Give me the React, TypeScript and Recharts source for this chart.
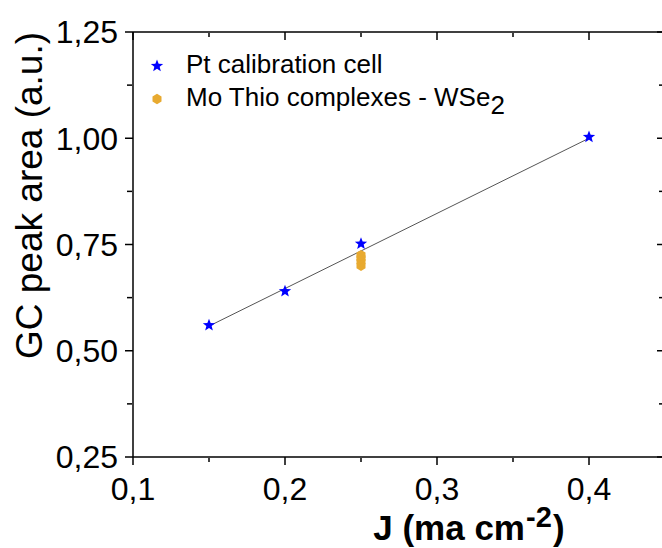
import { ScatterChart, Scatter, XAxis, YAxis, Legend, Label } from 'recharts';

// Pt calibration cell
const ptJ = [0.15, 0.2, 0.25, 0.4];
const ptArea = [0.56, 0.64, 0.752, 1.003];
// Mo thio complexes on WSe2
const moJ = [0.25, 0.25, 0.25, 0.25];
const moArea = [0.7, 0.71, 0.718, 0.725];
// linear fit of the calibration points
const fitJ = [0.15, 0.4];
const fitArea = [0.558, 1.0];

const xMajorTicks = [0.1, 0.2, 0.3, 0.4];
const xMinorTicks = [0.15, 0.25, 0.35, 0.45];
const yMajorTicks = [0.25, 0.5, 0.75, 1.0, 1.25];
const yMinorTicks = [0.375, 0.625, 0.875, 1.125];

const ptName = 'Pt calibration cell';
const moName = 'Mo Thio complexes - WSe';

const X_DOMAIN = [0.1, 0.45];
const Y_DOMAIN = [0.25, 1.25];
const FONT = 'Arial, "Liberation Sans", sans-serif';
const BLUE = '#0000FF';
const ORANGE = '#E8AA30';

const toPoints = (xs: number[], ys: number[]) => xs.map((x, i) => ({ x, y: ys[i] }));
const ptData = toPoints(ptJ, ptArea);
const moData = toPoints(moJ, moArea);
const fitData = toPoints(fitJ, fitArea);

function starPath(cx: number, cy: number, R: number, r: number) {
  let d = '';
  for (let i = 0; i < 10; i++) {
    const rad = i % 2 === 0 ? R : r;
    const a = -Math.PI / 2 + (i * Math.PI) / 5;
    d += (i === 0 ? 'M' : 'L') + (cx + rad * Math.cos(a)).toFixed(2) + ',' + (cy + rad * Math.sin(a)).toFixed(2);
  }
  return d + 'Z';
}

function hexPath(cx: number, cy: number, R: number) {
  let d = '';
  for (let i = 0; i < 6; i++) {
    const a = -Math.PI / 2 + (i * Math.PI) / 3;
    d += (i === 0 ? 'M' : 'L') + (cx + R * Math.cos(a)).toFixed(2) + ',' + (cy + R * Math.sin(a)).toFixed(2);
  }
  return d + 'Z';
}

const StarDot = (p: any) => <path d={starPath(p.cx, p.cy, 6.5, 2.8)} fill={BLUE} />;
const HexDot = (p: any) => <path d={hexPath(p.cx, p.cy, 5.2)} fill={ORANGE} />;

const fmtX = (v: number) => v.toFixed(1).replace('.', ',');
const fmtY = (v: number) => v.toFixed(2).replace('.', ',');
const blank = () => '';

const axisStroke = { stroke: '#000', strokeWidth: 1.5 };
const tickFont = { fontSize: 32, fill: '#000', fontFamily: FONT };

function LegendBox() {
  return (
    <svg width={420} height={80} style={{ fontFamily: FONT }}>
      <path d={starPath(17, 18, 6.5, 2.8)} fill={BLUE} />
      <text x={46} y={25} fontSize={26} fill="#000">{ptName}</text>
      <path d={hexPath(17, 51, 5.2)} fill={ORANGE} />
      <text x={46} y={58} fontSize={26} fill="#000">
        {moName}
        <tspan dy={8} fontSize={26}>2</tspan>
      </text>
    </svg>
  );
}

// "J (ma cm^-2)" split in three pieces so the raised exponent keeps its own box
const XTitle = (props: any) => {
  const vb = props.viewBox;
  const xs = vb.x + vb.width / 2 + 127;
  const base = vb.y + 83;
  const style = { fontWeight: 'bold' as const, fontFamily: FONT, fill: '#000' };
  return (
    <g>
      <text x={xs - 1} y={base} textAnchor="end" fontSize={35} {...style}>J (ma cm</text>
      <text x={xs} y={base - 13} textAnchor="start" fontSize={29} {...style}>-2</text>
      <text x={xs + 27} y={base} textAnchor="start" fontSize={35} {...style}>)</text>
    </g>
  );
};

const YTitle = (props: any) => {
  const vb = props.viewBox;
  const cy = vb.y + vb.height / 2 - 49;
  return (
    <text x={42} y={cy} transform={`rotate(-90, 42, ${cy})`} textAnchor="middle" fontSize={37} fontFamily={FONT} fill="#000">
      GC peak area (a.u.)
    </text>
  );
};

export default function App() {
  return (
    <div style={{ position: 'fixed', left: 0, top: 0, width: 662, height: 548, overflow: 'hidden', background: '#fff' }}>
      <ScatterChart width={680} height={548} margin={{ top: 32, right: 15, bottom: 89, left: 131 }}>
        {/* major axes first so they sit on the plot edge; minor ones only add short ticks */}
        <XAxis xAxisId="x" type="number" dataKey="x" domain={X_DOMAIN} ticks={xMajorTicks} interval={0} height={1}
          axisLine={axisStroke} tickLine={axisStroke} tickSize={8} tickMargin={12} tick={tickFont} tickFormatter={fmtX} allowDataOverflow>
          <Label content={XTitle} />
        </XAxis>
        <XAxis xAxisId="xm" type="number" dataKey="x" domain={X_DOMAIN} ticks={xMinorTicks} interval={0} height={1}
          axisLine={false} tickLine={axisStroke} tickSize={4} tickFormatter={blank} allowDataOverflow />
        <XAxis xAxisId="xt" orientation="top" mirror type="number" dataKey="x" domain={X_DOMAIN} ticks={xMajorTicks} interval={0} height={1}
          axisLine={axisStroke} tickLine={axisStroke} tickSize={8} tickFormatter={blank} allowDataOverflow />
        <XAxis xAxisId="xtm" orientation="top" mirror type="number" dataKey="x" domain={X_DOMAIN} ticks={xMinorTicks} interval={0} height={1}
          axisLine={false} tickLine={axisStroke} tickSize={4} tickFormatter={blank} allowDataOverflow />

        <YAxis yAxisId="y" type="number" dataKey="y" domain={Y_DOMAIN} ticks={yMajorTicks} interval={0} width={1}
          axisLine={axisStroke} tickLine={axisStroke} tickSize={8} tickMargin={7} tick={tickFont} tickFormatter={fmtY} allowDataOverflow>
          <Label content={YTitle} />
        </YAxis>
        <YAxis yAxisId="ym" type="number" dataKey="y" domain={Y_DOMAIN} ticks={yMinorTicks} interval={0} width={1}
          axisLine={false} tickLine={axisStroke} tickSize={5} tickFormatter={blank} allowDataOverflow />
        <YAxis yAxisId="yr" orientation="right" mirror type="number" dataKey="y" domain={Y_DOMAIN} ticks={yMajorTicks} interval={0} width={1}
          axisLine={axisStroke} tickLine={axisStroke} tickSize={8} tickFormatter={blank} allowDataOverflow />
        <YAxis yAxisId="yrm" orientation="right" mirror type="number" dataKey="y" domain={Y_DOMAIN} ticks={yMinorTicks} interval={0} width={1}
          axisLine={false} tickLine={axisStroke} tickSize={5} tickFormatter={blank} allowDataOverflow />

        <Legend layout="horizontal" verticalAlign="middle" align="center" content={LegendBox}
          wrapperStyle={{ left: 140, top: 48, width: 420, height: 80 }} />

        <Scatter name="fit" data={fitData} xAxisId="x" yAxisId="y" line={{ stroke: '#555', strokeWidth: 1 }}
          shape={() => <g />} legendType="none" isAnimationActive={false} />
        <Scatter name={ptName} data={ptData} xAxisId="x" yAxisId="y" fill={BLUE} shape={StarDot} isAnimationActive={false} />
        <Scatter name={moName + '2'} data={moData} xAxisId="x" yAxisId="y" fill={ORANGE} shape={HexDot} isAnimationActive={false} />
      </ScatterChart>
    </div>
  );
}
